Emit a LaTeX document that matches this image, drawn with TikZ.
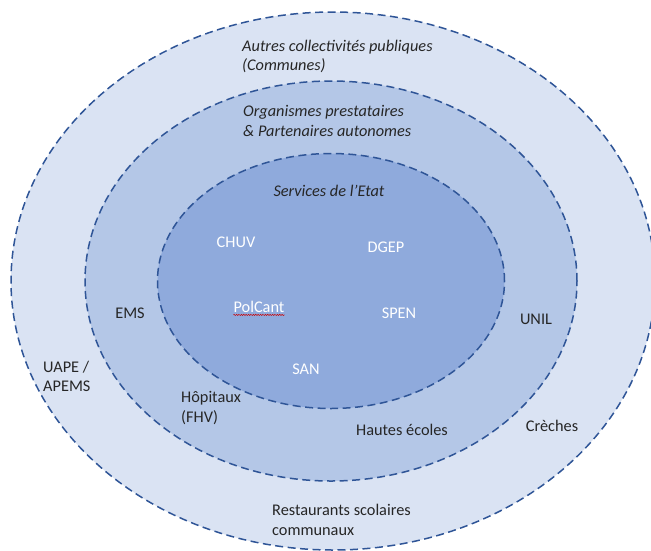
\documentclass[tikz,border=0pt]{standalone}
\usepackage{fontspec}
\setmainfont{Carlito}
\usepackage{tikz}
\usetikzlibrary{positioning, shapes.geometric, decorations.pathmorphing}
\definecolor{ringout}{RGB}{218,227,243}
\definecolor{ringmid}{RGB}{180,199,231}
\definecolor{ringin}{RGB}{143,170,220}
\definecolor{ringline}{RGB}{47,85,151}
\definecolor{txt}{RGB}{38,38,38}
\tikzstyle{ring}=[draw=ringline, shape=ellipse, inner sep=0pt, line width=1.5pt, dash pattern=on 8pt off 4.5pt]
\tikzstyle{lbl}=[inner sep=0pt, align=left, text=txt, font=\fontsize{16.3}{19.5}\selectfont]
\tikzstyle{svc}=[lbl, text=white]

\begin{document}
\begin{tikzpicture}[x=1pt, y=-1pt]
\useasboundingbox (0,0) rectangle (651,550);
\node[ring, fill=ringout, minimum width=644pt, minimum height=538pt] (outer) at (333,281) {};
\node[ring, fill=ringmid, minimum width=492pt, minimum height=400pt] (middle) at (331,281) {};
\node[ring, fill=ringin, minimum width=347pt, minimum height=255pt] (inner) at (331,281) {};

% outer ring
\node[lbl, anchor=west, font=\fontsize{16.3}{19.5}\selectfont\itshape] (autres) at (242,56.5) {Autres collectivités publiques\\(Communes)};
\node[lbl, anchor=west] (uape) at (43,376.5) {UAPE /\\APEMS};
\node[lbl] (creches) at (552,425.5) {Crèches};
\node[lbl, anchor=west] (resto) at (272,520) {Restaurants scolaires\\communaux};

% middle ring
\node[lbl, anchor=west, font=\fontsize{16.3}{19.5}\selectfont\itshape] (orga) at (243,121) {Organismes prestataires\\\& Partenaires autonomes};
\node[lbl] (ems) at (130,313) {EMS};
\node[lbl] (unil) at (536,319) {UNIL};
\node[lbl, anchor=west] (hopitaux) at (181,408) {Hôpitaux\\(FHV)};
\node[lbl] (hautes) at (402,430) {Hautes écoles};

% inner ring
\node[lbl, font=\fontsize{16.3}{19.5}\selectfont\itshape] (etat) at (329,191) {Services de l’Etat};
\node[svc] (chuv) at (236,242) {CHUV};
\node[svc] (dgep) at (386,247) {DGEP};
\node[svc] (polcant) at (259,307) {PolCant};
\node[svc] (spen) at (399,313) {SPEN};
\node[svc] (san) at (306,369) {SAN};
\draw[red!80!black, line width=0.5pt, decorate, decoration={snake, amplitude=0.6pt, segment length=2.4pt}] ([yshift=-2pt]polcant.south west) -- ([yshift=-2pt]polcant.south east);
\end{tikzpicture}
\end{document}
